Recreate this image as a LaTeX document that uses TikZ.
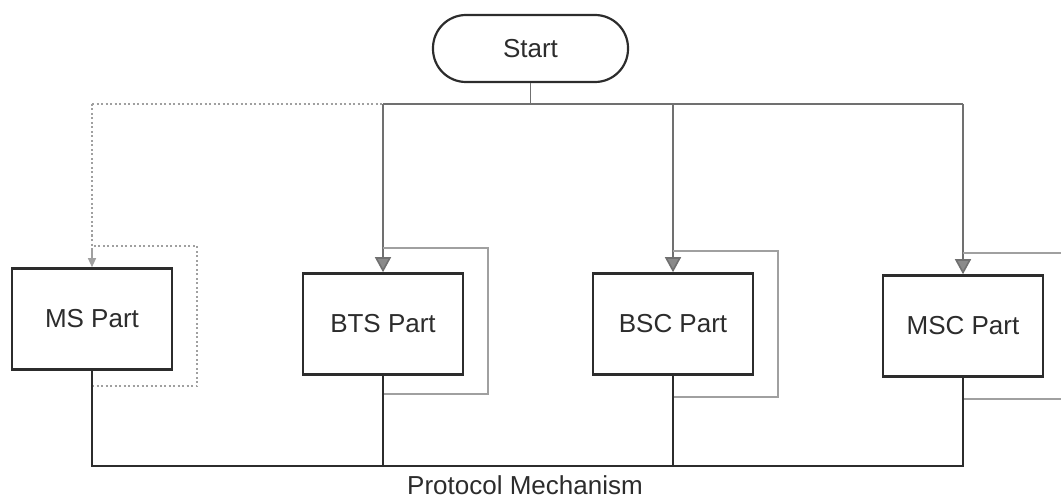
\documentclass[tikz,border=0pt]{standalone}
\usepackage{fontspec}
\setmainfont{Liberation Sans}
\usetikzlibrary{arrows.meta}
\definecolor{ink}{HTML}{2C2C2C}
\definecolor{wire}{HTML}{707070}
\definecolor{faint}{HTML}{A0A0A0}
\definecolor{headfill}{HTML}{8A8A8A}
\begin{document}
\begin{tikzpicture}[x=1pt,y=-1pt,
  lbl/.style={font=\fontsize{26}{30}\selectfont, text=ink},
  terminal/.style={lbl, draw=ink, line width=2.2pt, rounded corners=33pt,
    minimum width=195pt, minimum height=67pt, inner sep=0pt},
  partbox/.style={lbl, draw=ink, line width=2.6pt, fill=white,
    minimum width=160pt, minimum height=101pt, inner sep=0pt},
  feed/.style={draw=wire, line width=1.6pt},
  feedarrow/.style={feed, -{Triangle[length=15pt,width=16pt,fill=headfill]}},
  loopline/.style={draw=faint, line width=1.5pt},
  faintline/.style={draw=faint, line width=1.4pt, dash pattern=on 2pt off 2.5pt},
  joinline/.style={draw=ink, line width=2pt}]
\useasboundingbox (0,0) rectangle (1061,500);
\clip (0,0) rectangle (1061,500);

% start terminal and the four parts
\node[terminal] (start) at (530.5,48.5) {Start};
\node[partbox] (ms)  at (92,319)  {MS Part};
\node[partbox] (bts) at (383,324) {BTS Part};
\node[partbox] (bsc) at (673,324) {BSC Part};
\node[partbox] (msc) at (963,326) {MSC Part};

% distribution bus under the start terminal
\coordinate (bus)    at (530.5,104);
\coordinate (busMS)  at (92,104);
\coordinate (busBTS) at (383,104);
\coordinate (busBSC) at (673,104);
\coordinate (busMSC) at (963,104);

\draw[feed] (start.south) -- (bus);
\draw[faintline] (busMS) -- (busBTS);
\draw[feed] (busBTS) -- (busMSC);

% drops into each part
\draw[faintline] (busMS) -- (92,250);
\draw[draw=faint, line width=1.2pt, -{Triangle[length=9pt,width=8pt,fill=faint]}] (92,250) -- (ms.north);
\draw[feedarrow] (busBTS) -- (bts.north);
\draw[feedarrow] (busBSC) -- (bsc.north);
\draw[feedarrow] (busMSC) -- (msc.north);

% feedback loops on the right of each part
\coordinate (loopMStop) at (92,246);
\coordinate (loopMSbot) at (92,386);
\draw[faintline] (loopMSbot) -- (197,386) -- (197,246) -- (loopMStop);

\coordinate (loopBTStop) at (383,248);
\coordinate (loopBTSbot) at (383,394);
\draw[loopline] (loopBTSbot) -- (488,394) -- (488,248) -- (loopBTStop);

\coordinate (loopBSCtop) at (673,251);
\coordinate (loopBSCbot) at (673,397);
\draw[loopline] (loopBSCbot) -- (778,397) -- (778,251) -- (loopBSCtop);

\coordinate (loopMSCtop) at (963,253);
\coordinate (loopMSCbot) at (963,399);
\draw[loopline] (loopMSCbot) -- (1070,399);
\draw[loopline] (loopMSCtop) -- (1070,253);

% collecting bus at the bottom
\coordinate (outMS)  at (92,466);
\coordinate (outBTS) at (383,466);
\coordinate (outBSC) at (673,466);
\coordinate (outMSC) at (963,466);
\draw[joinline] (ms.south) -- (outMS) -- (outMSC) -- (msc.south);
\draw[joinline] (bts.south) -- (outBTS);
\draw[joinline] (bsc.south) -- (outBSC);

\node[lbl] (protocol) at (525,485) {Protocol Mechanism};
\end{tikzpicture}
\end{document}
